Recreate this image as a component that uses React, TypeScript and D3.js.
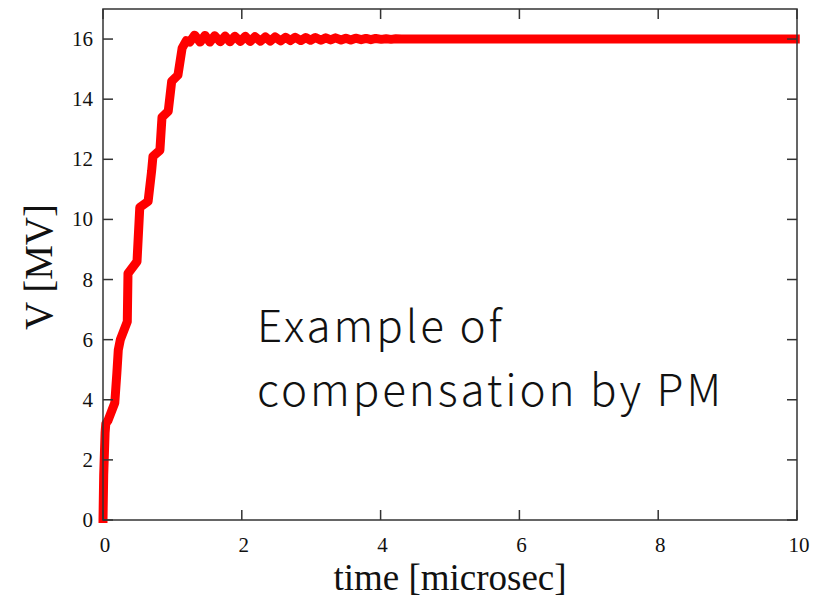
import React from "react";
import * as d3 from "d3";

// time [microsec]
const times: number[] = [
  0.0, 0.0, 0.01, 0.03, 0.04, 0.07, 0.12, 0.17, 0.2, 0.22, 0.25, 0.35, 0.36, 0.49, 0.53, 0.65,
  0.7, 0.72, 0.82, 0.85, 0.94, 0.99, 1.08, 1.14, 1.2,
  1.25, 1.32, 1.4, 1.47, 1.54, 1.61, 1.69, 1.76, 1.83, 1.9, 1.98, 2.05, 2.12, 2.19, 2.27,
  2.34, 2.41, 2.48, 2.56, 2.63, 2.7, 2.77, 2.85, 2.92, 2.99, 3.06, 3.14, 3.21, 3.28, 3.35,
  3.43, 3.5, 3.57, 3.64, 3.72, 3.79, 3.86, 3.93, 4.01, 4.08, 4.15, 4.22, 4.3, 10.04,
];
// V [MV]
const volts: number[] = [
  -0.1, 0.0, 1.5, 2.9, 3.2, 3.3, 3.6, 3.9, 4.9, 5.65, 6.0, 6.6, 8.2, 8.6, 10.4, 10.6,
  11.6, 12.1, 12.3, 13.4, 13.6, 14.6, 14.8, 15.7, 15.95,
  15.9, 16.13, 15.9, 16.12, 15.9, 16.11, 15.91, 16.1, 15.91, 16.09, 15.92, 16.09, 15.92, 16.08, 15.93,
  16.07, 15.93, 16.07, 15.94, 16.06, 15.95, 16.06, 15.95, 16.05, 15.96, 16.05, 15.96, 16.04, 15.97, 16.04,
  15.97, 16.03, 15.97, 16.03, 15.98, 16.02, 15.98, 16.02, 15.99, 16.01, 15.99, 16.01, 16.0, 16.0,
];

const xTicks: number[] = [0, 2, 4, 6, 8, 10];
const yTicks: number[] = [0, 2, 4, 6, 8, 10, 12, 14, 16];
const xTitle = "time [microsec]";
const yTitle = "V [MV]";
const noteLines: string[] = ["Example of", "compensation by PM"];

export default function App() {
  const W = 826, H = 599;
  const left = 103, right = 797, top = 9, bottom = 520;
  const x = d3.scaleLinear().domain([0, 10]).range([left, right]);
  const y = d3.scaleLinear().domain([0, 17]).range([bottom, top]);
  const pts: [number, number][] = times.map((t, i) => [t, volts[i]]);
  const line = d3.line<[number, number]>().x(d => x(d[0])).y(d => y(d[1]));
  const tl = 10;
  const axisColor = "#333";
  const serif = "'Liberation Serif', 'Times New Roman', serif";
  return (
    <svg width={W} height={H} style={{ position: "absolute", left: 0, top: 0, background: "#fff" }}>
      <rect x={0} y={0} width={W} height={H} fill="#fff" />
      {/* data line */}
      <path d={line(pts) || ""} fill="none" stroke="#ff0000" strokeWidth={9} strokeLinejoin="round" />
      {/* frame */}
      <rect x={left} y={top} width={right - left} height={bottom - top} fill="none" stroke={axisColor} strokeWidth={1.5} />
      {xTicks.map(t => (
        <g key={"x" + t}>
          <line x1={x(t)} x2={x(t)} y1={bottom} y2={bottom - tl} stroke={axisColor} strokeWidth={1.5} />
          <line x1={x(t)} x2={x(t)} y1={top} y2={top + tl} stroke={axisColor} strokeWidth={1.5} />
          <text x={x(t) + 2} y={552} fontFamily={serif} fontSize={21} textAnchor="middle" fill="#111">{t}</text>
        </g>
      ))}
      {yTicks.map(v => (
        <g key={"y" + v}>
          <line x1={left} x2={left + tl} y1={y(v)} y2={y(v)} stroke={axisColor} strokeWidth={1.5} />
          <line x1={right} x2={right - tl} y1={y(v)} y2={y(v)} stroke={axisColor} strokeWidth={1.5} />
          <text x={93} y={y(v) + 7} fontFamily={serif} fontSize={21} textAnchor="end" fill="#111">{v}</text>
        </g>
      ))}
      <text x={450} y={590} fontFamily={serif} fontSize={37} textAnchor="middle" fill="#111">{xTitle}</text>
      <text transform={`translate(52,267) rotate(-90)`} fontFamily={serif} fontSize={39} textAnchor="middle" fill="#111">{yTitle}</text>
      <text fontFamily="'Noto Sans CJK JP', 'Noto Sans', sans-serif" fontWeight={300} fontSize={44} letterSpacing={2.9} fill="#111">
        {noteLines.map((s, i) => (
          <tspan key={i} x={257} y={342 + i * 64}>{s}</tspan>
        ))}
      </text>
    </svg>
  );
}
